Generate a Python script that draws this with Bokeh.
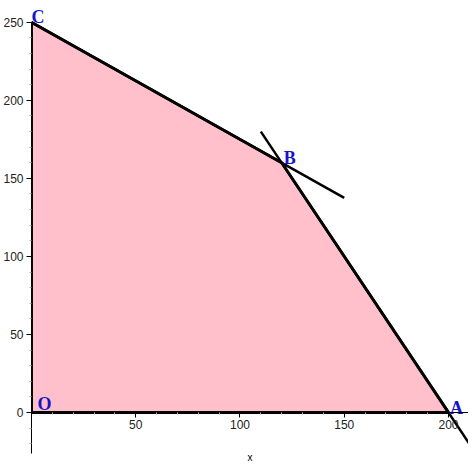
from bokeh.plotting import figure
from bokeh.models import Range1d, FixedTicker, ColumnDataSource
from bokeh.core.properties import value
from bokeh.embed import file_html
from bokeh.resources import INLINE

# ---- data ----
region_x = [0, 200, 120, 0]
region_y = [0, 0, 160, 250]
line1_x = [0, 150]
line1_y = [250, 137.5]
line2_x = [110, 210]
line2_y = [180, -20]
point_names = ["O", "A", "B", "C"]
point_x = [0, 200, 120, 0]
point_y = [0, 0, 160, 250]
x_ticks = [50, 100, 150, 200]
x_minor = [10, 20, 30, 40, 60, 70, 80, 90, 110, 120, 130, 140, 160, 170, 180, 190, 210]
y_ticks = [0, 50, 100, 150, 200, 250]
y_minor = [-20, -10, 10, 20, 30, 40, 60, 70, 80, 90, 110, 120, 130, 140,
           160, 170, 180, 190, 210, 220, 230, 240]

p = figure(width=468, height=465, output_backend="svg", toolbar_location=None,
           x_range=Range1d(0, 209.6), y_range=Range1d(-34, 264),
           min_border_left=28, min_border_right=0, min_border_top=0, min_border_bottom=0)
p.outline_line_color = None
p.grid.visible = False
p.background_fill_color = "white"

p.patch(region_x, region_y, fill_color="#FFC0CB", line_color="black", line_width=3)
p.line(line1_x, line1_y, line_color="black", line_width=2.5)
p.line(line2_x, line2_y, line_color="black", line_width=2.5)

src = ColumnDataSource(dict(x=point_x, y=point_y, t=point_names,
                            xo=[13, 8, 8, 6.5], yo=[-8.5, -4.5, -4.9, -5.5]))
p.text(x="x", y="y", text="t", x_offset="xo", y_offset="yo", source=src,
       text_font=value("Liberation Serif"), text_font_style="bold",
       text_font_size="18px", text_color="#1414C8",
       text_align="center", text_baseline="middle")

xa = p.xaxis[0]
xa.fixed_location = 0
xa.bounds = (0, 209.6)
xa.ticker = FixedTicker(ticks=x_ticks, minor_ticks=x_minor)
xa.axis_label = "x"
ya = p.yaxis[0]
ya.bounds = (-26, 250)
ya.ticker = FixedTicker(ticks=y_ticks, minor_ticks=y_minor)

for ax in (xa, ya):
    ax.axis_line_color = "black"
    ax.axis_line_width = 1
    ax.major_tick_line_color = "black"
    ax.minor_tick_line_color = "#aaaaaa"
    ax.major_tick_in = 0
    ax.minor_tick_in = 0
    ax.major_tick_out = 5
    ax.minor_tick_out = 2
    ax.major_label_text_font = "Liberation Sans"
    ax.major_label_text_font_size = "12px"
    ax.major_label_text_color = "#222222"
    ax.major_label_standoff = 3
    ax.axis_label_text_font = "Liberation Sans"
    ax.axis_label_text_font_size = "10px"
    ax.axis_label_text_font_style = "normal"
    ax.axis_label_text_color = "black"
xa.axis_label_standoff = 19

open("out.html", "w").write(file_html(p, INLINE))
